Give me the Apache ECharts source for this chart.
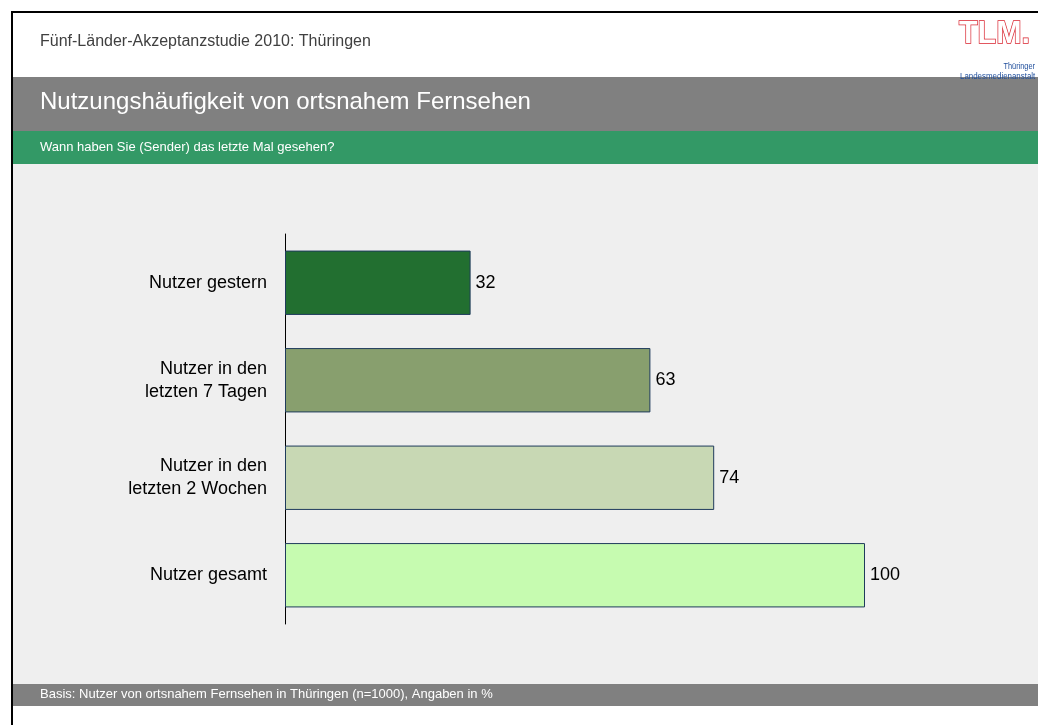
<!DOCTYPE html>
<html><head><meta charset="utf-8">
<script src="https://cdn.jsdelivr.net/npm/echarts@6/dist/echarts.min.js"></script>
<style>html,body{margin:0;padding:0;background:#fff}#c{width:1038px;height:725px}</style>
</head><body><div id="c"></div>
<script>
const categories = ['Nutzer gestern', 'Nutzer in den\nletzten 7 Tagen', 'Nutzer in den\nletzten 2 Wochen', 'Nutzer gesamt'];
const values = [32, 63, 74, 100];
const barColors = ['#226f30', '#889f6e', '#c8d8b4', '#c6fbb0'];
const headerText = 'Fünf-Länder-Akzeptanzstudie 2010: Thüringen';
const titleText = 'Nutzungshäufigkeit von ortsnahem Fernsehen';
const questionText = 'Wann haben Sie (Sender) das letzte Mal gesehen?';
const footerText = 'Basis: Nutzer von ortsnahem Fernsehen in Thüringen (n=1000), Angaben in %';

const chart = echarts.init(document.getElementById('c'), null, {renderer: 'canvas'});
const F = 'Liberation Sans, Arial, sans-serif';
chart.setOption({
  animation: false,
  backgroundColor: '#ffffff',
  graphic: [
    {type: 'rect', z: -10, shape: {x: 12, y: 164, width: 1030, height: 520}, style: {fill: '#efefef'}},
    {type: 'rect', z: -10, shape: {x: 12, y: 77, width: 1030, height: 54}, style: {fill: '#808080'}},
    {type: 'rect', z: -10, shape: {x: 12, y: 131, width: 1030, height: 33}, style: {fill: '#339966'}},
    {type: 'rect', z: -10, shape: {x: 12, y: 684, width: 1030, height: 22}, style: {fill: '#808080'}},
    {type: 'line', z: 10, shape: {x1: 11, y1: 12, x2: 1040, y2: 12}, style: {stroke: '#000', lineWidth: 2}},
    {type: 'line', z: 10, shape: {x1: 12, y1: 12, x2: 12, y2: 725}, style: {stroke: '#000', lineWidth: 2}},
    {type: 'text', left: 40, top: 34, style: {text: headerText, fill: '#404040', font: '16px ' + F}},
    {type: 'text', left: 40, top: 90, style: {text: titleText, fill: '#ffffff', font: '24px ' + F}},
    {type: 'text', left: 40, top: 141, style: {text: questionText, fill: '#ffffff', font: '13px ' + F}},
    {type: 'text', left: 40, top: 688, style: {text: footerText, fill: '#ffffff', font: '13px ' + F}},
    {type: 'text', x: 959, y: 18, scaleX: 0.95, style: {text: 'TLM.', fill: '#ffffff', stroke: '#d9232e', lineWidth: 1.5, font: 'bold 32px ' + F}},
    {type: 'text', x: 1035, y: 62, scaleX: 0.82, style: {text: 'Thüringer', fill: '#1f4e9c', font: '9px ' + F, align: 'right'}},
    {type: 'text', x: 960, y: 72, scaleX: 0.88, style: {text: 'Landesmedienanstalt', fill: '#1f4e9c', font: '9px ' + F}}
  ],
  grid: {left: 285, top: 234, width: 580, height: 390, containLabel: false},
  xAxis: {type: 'value', min: 0, max: 100, show: false},
  yAxis: {
    type: 'category', data: categories, inverse: true,
    axisLine: {show: true, lineStyle: {color: '#000', width: 1}},
    axisTick: {show: false},
    axisLabel: {color: '#000', fontSize: 18, fontFamily: F, margin: 18, lineHeight: 23, align: 'right'}
  },
  series: [{
    type: 'bar', data: values.map((v, i) => ({value: v, itemStyle: {color: barColors[i]}})),
    barCategoryGap: '34%',
    itemStyle: {borderColor: '#1f3b5c', borderWidth: 1},
    label: {show: true, position: 'right', color: '#000', fontSize: 18, fontFamily: F, distance: 5}
  }]
});
</script></body></html>
